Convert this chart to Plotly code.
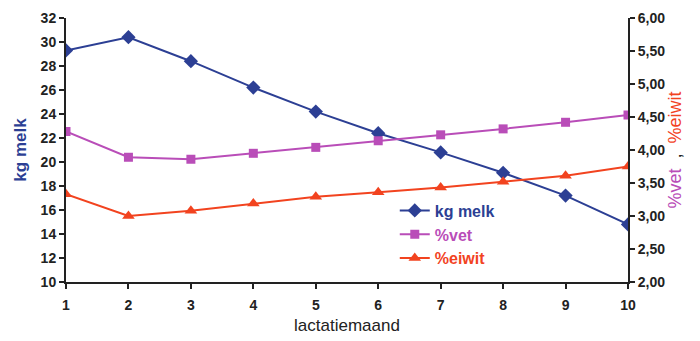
import plotly.graph_objects as go

maand = [1, 2, 3, 4, 5, 6, 7, 8, 9, 10]
kg_melk = [29.3, 30.4, 28.4, 26.2, 24.2, 22.4, 20.8, 19.1, 17.2, 14.8]
pct_vet = [4.28, 3.89, 3.86, 3.95, 4.04, 4.14, 4.23, 4.32, 4.42, 4.53]
pct_eiwit = [3.33, 3.0, 3.08, 3.19, 3.29, 3.36, 3.43, 3.52, 3.61, 3.75]

x_labels = [str(m) for m in maand]
left_ticks = list(range(10, 33, 2))
left_labels = [str(v) for v in left_ticks]
right_ticks = [2.0, 2.5, 3.0, 3.5, 4.0, 4.5, 5.0, 5.5, 6.0]
right_labels = ["2,00", "2,50", "3,00", "3,50", "4,00", "4,50", "5,00", "5,50", "6,00"]

BLUE = "#2c3f94"
MAG = "#b94db8"
RED = "#f2431f"
INK = "#222"
FONT = "Liberation Sans, Arial, sans-serif"


def bold(labels):
    return ["<b>%s</b>" % s for s in labels]


fig = go.Figure()
fig.add_trace(go.Scatter(
    x=maand, y=kg_melk, mode="lines+markers",
    name='<b><span style="color:%s">kg melk</span></b>' % BLUE,
    line=dict(color=BLUE, width=2),
    marker=dict(symbol="diamond", size=11, color=BLUE),
    yaxis="y"))
fig.add_trace(go.Scatter(
    x=maand, y=pct_vet, mode="lines+markers",
    name='<b><span style="color:%s">%%vet</span></b>' % MAG,
    line=dict(color=MAG, width=2),
    marker=dict(symbol="square", size=9, color=MAG),
    yaxis="y2"))
fig.add_trace(go.Scatter(
    x=maand, y=pct_eiwit, mode="lines+markers",
    name='<b><span style="color:%s">%%eiwit</span></b>' % RED,
    line=dict(color=RED, width=2),
    marker=dict(symbol="triangle-up", size=11, color=RED),
    yaxis="y2"))

tickfont = dict(family=FONT, size=14, color=INK)

fig.update_layout(
    width=700, height=341,
    margin=dict(l=66, r=72, t=18, b=59),
    paper_bgcolor="white", plot_bgcolor="white",
    font=dict(family=FONT),
    showlegend=True,
    legend=dict(x=0.585, y=0.335, xanchor="left", yanchor="top",
                bgcolor="rgba(0,0,0,0)",
                font=dict(family=FONT, size=16),
                tracegroupgap=0),
    xaxis=dict(
        range=[1, 10], tickmode="array", tickvals=maand, ticktext=bold(x_labels),
        showline=True, linecolor=INK, linewidth=2,
        ticks="outside", ticklen=5, tickcolor=INK, tickwidth=1.5,
        ticklabelstandoff=4, automargin=False,
        showgrid=False, zeroline=False,
        tickfont=dict(family=FONT, size=14, color=INK),
        title=dict(text="lactatiemaand",
                   font=dict(family=FONT, size=17, color=INK),
                   standoff=7),
    ),
    yaxis=dict(
        range=[10, 32], tickmode="array", tickvals=left_ticks, ticktext=bold(left_labels),
        showline=True, linecolor=INK, linewidth=2,
        ticks="outside", ticklen=5, tickcolor=INK, tickwidth=1.5,
        showgrid=False, zeroline=False, automargin=False,
        tickfont=tickfont,
        title=dict(text="<b>kg melk</b>",
                   font=dict(family=FONT, size=17, color=BLUE),
                   standoff=10),
    ),
    yaxis2=dict(
        range=[2, 6], tickmode="array", tickvals=right_ticks, ticktext=bold(right_labels),
        overlaying="y", side="right",
        showline=True, linecolor=INK, linewidth=2,
        ticks="outside", ticklen=5, tickcolor=INK, tickwidth=1.5,
        showgrid=False, zeroline=False, automargin=False,
        tickfont=tickfont,
        title=dict(text='<span style="color:%s">%%vet</span>  <span style="color:#222">,</span>  <span style="color:%s">%%eiwit</span>' % (MAG, RED),
                   font=dict(family=FONT, size=18),
                   standoff=4),
    ),
)

fig.write_html("out.html")
